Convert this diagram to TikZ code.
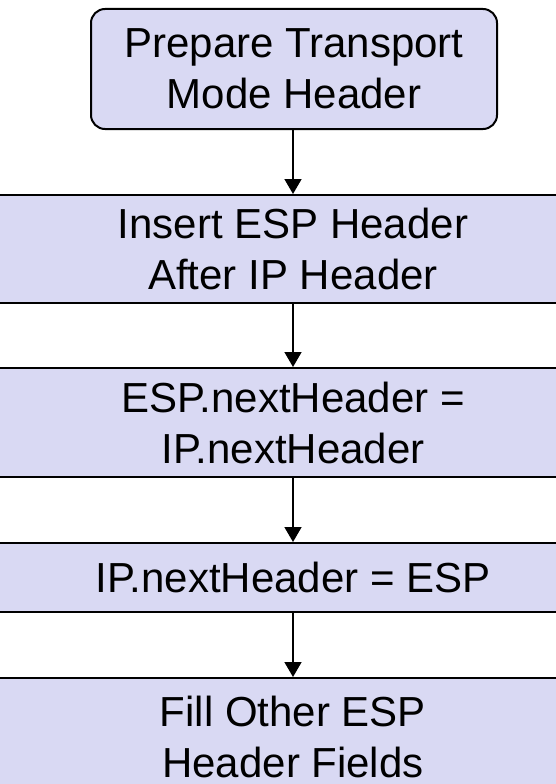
\documentclass[tikz,border=0pt]{standalone}
\usepackage{fontspec}
\setmainfont{Liberation Sans}
\usetikzlibrary{arrows.meta}
\definecolor{boxfill}{RGB}{217,217,243}
\tikzset{
  boxtext/.style={font={\fontsize{42pt}{51pt}\selectfont}, align=center, inner sep=0pt},
  roundbox/.style={boxtext, draw=black, line width=2pt, fill=boxfill, rounded corners=14pt},
  plainbox/.style={boxtext, draw=black, line width=2pt, fill=boxfill},
  flow/.style={draw=black, line width=1.6pt, -{Triangle[width=17pt,length=15pt]}}
}
\begin{document}
\begin{tikzpicture}[x=1pt,y=1pt]
  \useasboundingbox (0,0) rectangle (556,-784);
  \clip (0,0) rectangle (556,-784);
  \node[roundbox, minimum width=406pt, minimum height=120pt] (b1) at (294,-69) {Prepare Transport\\Mode Header};
  \node[plainbox, minimum width=700pt, minimum height=108pt] (b2) at (293,-249) {Insert ESP Header\\After IP Header};
  \node[plainbox, minimum width=700pt, minimum height=109pt] (b3) at (293,-422.5) {ESP.nextHeader =\\IP.nextHeader};
  \node[plainbox, minimum width=700pt, minimum height=69pt] (b4) at (293,-577.5) {IP.nextHeader = ESP};
  \node[plainbox, minimum width=700pt, minimum height=118pt] (b5) at (293,-737) {Fill Other ESP\\Header Fields};
  \draw[flow] (b1.south -| 293,0) -- (b2.north);
  \draw[flow] (b2) -- (b3);
  \draw[flow] (b3) -- (b4);
  \draw[flow] (b4) -- (b5);
\end{tikzpicture}
\end{document}
